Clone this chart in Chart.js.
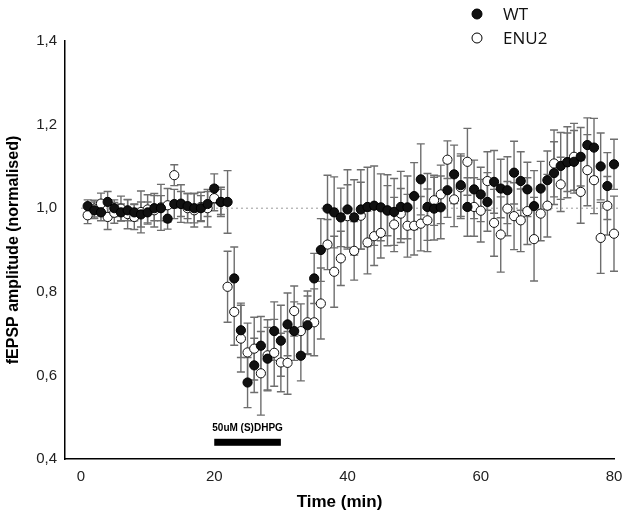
<!DOCTYPE html>
<html>
<head>
<meta charset="utf-8">
<script src="https://cdn.jsdelivr.net/npm/chart.js@4/dist/chart.umd.min.js"></script>
<style>
    html, body { margin: 0; padding: 0; background: #ffffff; }
    #wrap { width: 630px; height: 517px; }
</style>
</head>
<body>
<div id="wrap"><canvas id="fepspChart"></canvas></div>
<script>
// Time points (min)
const timePoints = [1,2,3,4,5,6,7,8,9,10,11,12,13,14,15,16,17,18,19,20,
    21,22,23,24,25,26,27,28,29,30,31,32,33,34,35,36,37,38,39,40,
    41,42,43,44,45,46,47,48,49,50,51,52,53,54,55,56,57,58,59,60,
    61,62,63,64,65,66,67,68,69,70,71,72,73,74,75,76,77,78,79,80];

// WT mean and SEM
const wtValues = [1.005,0.995,0.99,1.015,1.0,0.99,0.995,0.99,0.985,0.99,
    1.0,1.0,0.975,1.01,1.01,1.005,1.0,1.0,1.01,1.047,
    1.015,1.015,0.832,0.708,0.583,0.624,0.671,0.640,0.706,0.683,
    0.722,0.706,0.647,0.72,0.832,0.9,0.999,0.99,0.978,0.997,
    0.978,0.997,1.003,1.006,1.002,0.995,0.991,1.003,1.002,1.029,
    1.069,1.003,0.999,1.002,1.043,1.081,1.055,1.003,1.045,1.033,
    1.015,1.063,1.047,1.043,1.085,1.065,1.045,1.005,1.047,1.067,
    1.084,1.101,1.11,1.111,1.123,1.151,1.145,1.1,1.053,1.105];
const wtErrors = [0.015,0.02,0.02,0.025,0.02,0.02,0.025,0.02,0.03,0.025,
    0.03,0.03,0.025,0.035,0.03,0.03,0.035,0.03,0.03,0.035,
    0.03,0.075,0.075,0.065,0.06,0.065,0.07,0.075,0.07,0.085,
    0.075,0.07,0.06,0.07,0.06,0.075,0.08,0.085,0.07,0.095,
    0.09,0.095,0.095,0.095,0.08,0.085,0.08,0.085,0.075,0.08,
    0.085,0.08,0.075,0.075,0.065,0.07,0.075,0.07,0.07,0.065,
    0.07,0.075,0.07,0.08,0.075,0.07,0.065,0.085,0.065,0.07,
    0.075,0.08,0.07,0.075,0.07,0.065,0.07,0.08,0.08,0.06];

// ENU2 mean and SEM
const enuValues = [0.983,0.999,1.011,0.979,0.989,0.999,0.986,0.979,0.991,0.997,
    0.995,1.002,1.007,1.079,1.011,1.0,0.995,1.003,1.0,1.024,
    1.015,0.812,0.752,0.688,0.655,0.664,0.605,0.648,0.654,0.631,
    0.630,0.754,0.706,0.727,0.727,0.772,0.913,0.848,0.88,0.981,
    0.898,0.982,0.918,0.933,0.941,0.994,0.961,0.987,0.958,0.958,
    0.963,0.971,1.019,1.033,1.116,1.021,1.05,1.111,1.003,0.994,
    1.065,0.965,0.937,0.999,0.981,0.971,0.993,0.926,0.987,1.006,
    1.107,1.057,1.11,1.123,1.039,1.091,1.067,0.929,1.006,0.939];
const enuErrors = [0.02,0.02,0.025,0.03,0.025,0.03,0.035,0.03,0.05,0.035,
    0.04,0.055,0.04,0.025,0.045,0.035,0.04,0.035,0.045,0.03,
    0.035,0.085,0.08,0.08,0.07,0.075,0.1,0.085,0.08,0.07,
    0.075,0.06,0.065,0.075,0.08,0.085,0.06,0.085,0.065,0.075,
    0.07,0.08,0.075,0.07,0.06,0.06,0.065,0.06,0.075,0.07,
    0.065,0.075,0.06,0.07,0.045,0.065,0.075,0.08,0.07,0.075,
    0.07,0.08,0.09,0.065,0.08,0.075,0.08,0.1,0.065,0.075,
    0.08,0.065,0.085,0.08,0.075,0.085,0.08,0.085,0.07,0.09];

// Drug application bar
const drugLabel = '50uM (S)DHPG';
const drugStart = 20;
const drugEnd = 30;
const drugLevel = 0.44;

const baselineValue = 1.0;
const xTicks = [0, 10, 20, 30, 40, 50, 60, 70, 80];
const yTicks = [0.4, 0.6, 0.8, 1.0, 1.2, 1.4];
const legendOrder = ['WT', 'ENU2'];

// Draw SEM bars under the markers
const errorBarPlugin = {
    id: 'errorBars',
    beforeDatasetsDraw(chart) {
        const ctx = chart.ctx;
        const xs = chart.scales.x;
        const ys = chart.scales.y;
        ctx.save();
        ctx.strokeStyle = '#6e6e6e';
        ctx.lineWidth = 1.4;
        chart.data.datasets.forEach((ds) => {
            if (!ds.errors) return;
            ds.data.forEach((p, i) => {
                const px = xs.getPixelForValue(p.x);
                const top = ys.getPixelForValue(p.y + ds.errors[i]);
                const bot = ys.getPixelForValue(p.y - ds.errors[i]);
                ctx.beginPath();
                ctx.moveTo(px, top); ctx.lineTo(px, bot);
                ctx.moveTo(px - 4, top); ctx.lineTo(px + 4, top);
                ctx.moveTo(px - 4, bot); ctx.lineTo(px + 4, bot);
                ctx.stroke();
            });
        });
        ctx.restore();
    }
};

// Drug bar and legend
const annotationPlugin = {
    id: 'annotations',
    afterDraw(chart) {
        const ctx = chart.ctx;
        const xs = chart.scales.x;
        const ys = chart.scales.y;
        ctx.save();
        // drug bar
        const x1 = xs.getPixelForValue(drugStart);
        const x2 = xs.getPixelForValue(drugEnd);
        const yb = ys.getPixelForValue(drugLevel);
        ctx.fillStyle = '#000';
        ctx.fillRect(x1, yb - 3.5, x2 - x1, 7);
        ctx.font = 'bold 10px "Liberation Sans", Arial, sans-serif';
        ctx.textAlign = 'center';
        ctx.textBaseline = 'bottom';
        ctx.fillText(drugLabel, (x1 + x2) / 2, yb - 9);

        // legend
        ctx.font = '17px "Open Sans", "Noto Sans", sans-serif';
        ctx.textAlign = 'left';
        ctx.textBaseline = 'middle';
        legendOrder.forEach((name, k) => {
            const ds = chart.data.datasets.find(d => d.label === name);
            const ly = 14 + k * 24;
            ctx.beginPath();
            ctx.arc(477, ly, 5, 0, Math.PI * 2);
            ctx.fillStyle = ds.backgroundColor;
            ctx.fill();
            ctx.lineWidth = 1;
            ctx.strokeStyle = '#000';
            ctx.stroke();
            ctx.fillStyle = '#111';
            ctx.fillText(ds.label, 503, ly + 1);
        });
        ctx.restore();
    }
};

const ctxChart = document.getElementById('fepspChart').getContext('2d');
const fepspChart = new Chart(ctxChart, {
    type: 'scatter',
    data: {
        datasets: [
            {
                label: 'baseline',
                type: 'line',
                data: [{ x: 0, y: baselineValue }, { x: 81, y: baselineValue }],
                borderColor: '#9a9a9a',
                borderWidth: 1,
                borderDash: [2, 3],
                pointRadius: 0,
                fill: false,
                clip: false,
                order: 3,
            },
            {
                label: 'ENU2',
                data: timePoints.map((t, i) => ({ x: t, y: enuValues[i] })),
                errors: enuErrors,
                backgroundColor: '#ffffff',
                borderColor: '#111111',
                borderWidth: 1,
                pointRadius: 4.6,
                clip: false,
                order: 2,
            },
            {
                label: 'WT',
                data: timePoints.map((t, i) => ({ x: t, y: wtValues[i] })),
                errors: wtErrors,
                backgroundColor: '#111111',
                borderColor: '#000000',
                borderWidth: 1,
                pointRadius: 4.6,
                clip: false,
                order: 1,
            }
        ]
    },
    options: {
        responsive: true,
        maintainAspectRatio: false,
        animation: false,
        layout: { padding: { top: 41, right: 16, left: 0, bottom: 0 } },
        plugins: {
            legend: { display: false },
            tooltip: { enabled: false },
        },
        scales: {
            x: {
                type: 'linear',
                min: -2.4,
                max: 80,
                afterBuildTicks: (scale) => {
                    scale.ticks = xTicks.map(v => ({ value: v }));
                },
                afterFit: (scale) => { scale.height = 58; },
                border: { display: true, color: '#000', width: 1.5 },
                grid: { display: false, drawOnChartArea: false, drawTicks: true, tickLength: 5, color: '#000' },
                ticks: {
                    color: '#222',
                    padding: 4,
                    font: { family: '"Liberation Sans", Arial, sans-serif', size: 15 },
                    callback: (v) => (v % 20 === 0 ? String(v) : ''),
                },
                title: {
                    display: true,
                    text: 'Time (min)',
                    color: '#000',
                    padding: { top: 2 },
                    font: { family: '"Liberation Sans", Arial, sans-serif', size: 17, weight: 'bold' },
                }
            },
            y: {
                type: 'linear',
                min: 0.4,
                max: 1.4,
                afterBuildTicks: (scale) => {
                    scale.ticks = yTicks.map(v => ({ value: v }));
                },
                afterFit: (scale) => { scale.width = 65; },
                border: { display: true, color: '#000', width: 1.5 },
                grid: { display: false, drawOnChartArea: false, drawTicks: true, tickLength: 5, color: '#000' },
                ticks: {
                    color: '#222',
                    padding: 3,
                    font: { family: '"Liberation Sans", Arial, sans-serif', size: 15 },
                    callback: (v) => v.toFixed(1).replace('.', ','),
                },
                title: {
                    display: true,
                    text: 'fEPSP amplitude (normalised)',
                    color: '#000',
                    padding: { top: 4, bottom: 2 },
                    font: { family: '"Liberation Sans", Arial, sans-serif', size: 16, weight: 'bold' },
                }
            }
        }
    },
    plugins: [errorBarPlugin, annotationPlugin]
});
</script>
</body>
</html>
